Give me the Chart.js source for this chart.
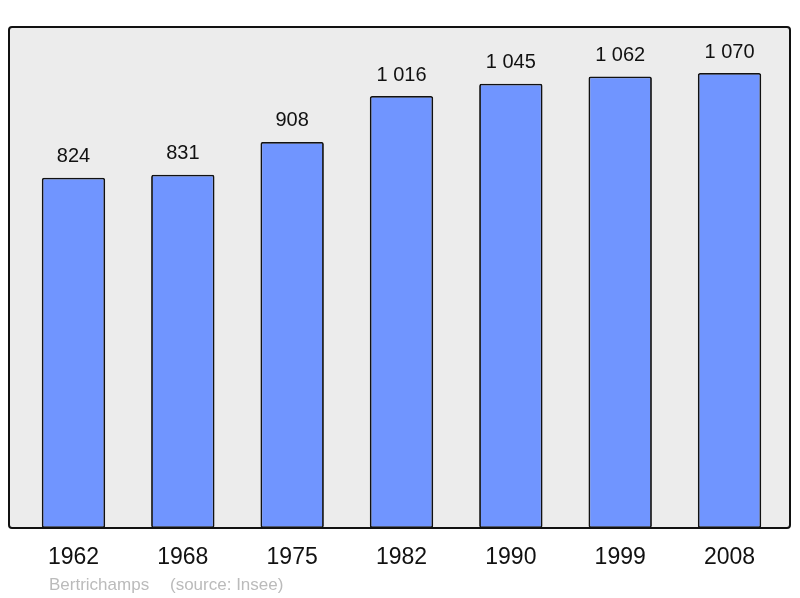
<!DOCTYPE html>
<html>
<head>
<meta charset="utf-8">
<style>
  html, body { margin: 0; padding: 0; background: #fff; }
  #wrap { width: 800px; height: 598px; position: relative; }
</style>
<script src="https://cdn.jsdelivr.net/npm/chart.js@4/dist/chart.umd.min.js"></script>
</head>
<body>
<div id="wrap"><canvas id="chart" width="800" height="598"></canvas></div>
<script>
// Data
const years = ['1962', '1968', '1975', '1982', '1990', '1999', '2008'];
const population = [824, 831, 908, 1016, 1045, 1062, 1070];
const townName = 'Bertrichamps';
const sourceText = '(source: Insee)';

// number like "1 016"
function fmt(n) {
    return String(n).replace(/\B(?=(\d{3})+(?!\d))/g, ' ');
}

// Grey frame behind bars, border drawn on top
const framePlugin = {
    id: 'frame',
    beforeDatasetsDraw(chart) {
        const { ctx, chartArea } = chart;
        ctx.save();
        ctx.fillStyle = '#ececec';
        ctx.beginPath();
        ctx.roundRect(chartArea.left - 9.8, chartArea.top - 1, chartArea.right - chartArea.left + 15.6, chartArea.bottom - chartArea.top + 1, 3);
        ctx.fill();
        ctx.restore();
    },
    afterDatasetsDraw(chart) {
        const { ctx, chartArea } = chart;
        ctx.save();
        ctx.strokeStyle = '#111';
        ctx.lineWidth = 2;
        ctx.beginPath();
        ctx.roundRect(chartArea.left - 9.8, chartArea.top - 1, chartArea.right - chartArea.left + 15.6, chartArea.bottom - chartArea.top + 1, 3);
        ctx.stroke();

        // value labels
        const meta = chart.getDatasetMeta(0);
        ctx.fillStyle = '#111';
        ctx.font = '20px "Liberation Sans", Arial, sans-serif';
        ctx.textAlign = 'center';
        ctx.textBaseline = 'middle';
        meta.data.forEach((bar, i) => {
            ctx.fillText(fmt(population[i]), bar.x, bar.y - 21);
        });

        // source line
        ctx.fillStyle = '#bbbbbb';
        ctx.font = '17px "Liberation Sans", Arial, sans-serif';
        ctx.textAlign = 'left';
        ctx.fillText(townName, 49, 585);
        ctx.fillText(sourceText, 170, 585);
        ctx.restore();
    }
};

new Chart(document.getElementById('chart').getContext('2d'), {
    type: 'bar',
    data: {
        labels: years,
        datasets: [{
            data: population,
            backgroundColor: '#7095ff',
            borderColor: '#111',
            borderWidth: 1.8,
            borderRadius: 2,
            borderSkipped: false,
            barPercentage: 0.58,
            categoryPercentage: 1
        }]
    },
    options: {
        responsive: false,
        animation: false,
        layout: { padding: { left: 18.8, right: 15.8, top: 28, bottom: 0 } },
        plugins: {
            legend: { display: false },
            tooltip: { enabled: false }
        },
        scales: {
            x: {
                grid: { display: false },
                border: { display: false },
                ticks: {
                    color: '#111',
                    font: { family: '"Liberation Sans", Arial, sans-serif', size: 23 },
                    padding: 8
                },
                afterFit(scale) { scale.height = 70; }
            },
            y: {
                display: false,
                min: 0,
                max: 1176
            }
        }
    },
    plugins: [framePlugin]
});
</script>
</body>
</html>
